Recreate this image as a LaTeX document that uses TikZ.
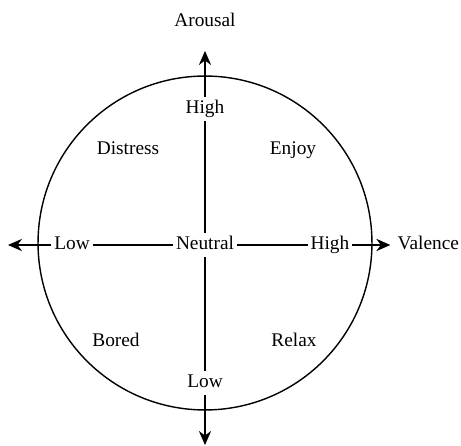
\documentclass[tikz,border=0pt]{standalone}
\usepackage{fontspec}
\setmainfont{Liberation Serif}
\usetikzlibrary{arrows.meta, positioning}

\begin{document}
\begin{tikzpicture}[x=0.02cm, y=-0.02cm,
    every node/.style={font=\fontsize{11}{13}\selectfont, inner sep=1.5pt,
        text height=7.5pt, text depth=2.5pt},
    axis/.style={line width=0.8pt},
    axisarrow/.style={axis, -{Stealth[length=8pt, width=7pt]}}
]
\useasboundingbox (0,0) rectangle (461,446);

% Circle of the affect space
\draw[line width=0.8pt] (205,243) circle (3.34cm);

% Axis labels
\node (neutral) at (205,245) {Neutral};
\node (ahigh) at (205,109) {High};
\node (alow) at (205,383) {Low};
\node (vlow) at (72,245) {Low};
\node (vhigh) at (330,245) {High};
\node[anchor=east, inner sep=1pt] (valence) at (461,245) {Valence};
\node (arousal) at (205,22) {Arousal};
\coordinate (atop) at (205,51);
\coordinate (abot) at (205,445);
\coordinate (vleft) at (8,245);

% Arousal axis
\draw[axis] (neutral) -- (ahigh);
\draw[axisarrow] (ahigh) -- (atop);
\draw[axis] (neutral) -- (alow);
\draw[axisarrow] (alow) -- (abot);

% Valence axis
\draw[axis] (neutral) -- (vlow);
\draw[axisarrow] (vlow) -- (vleft);
\draw[axis] (neutral) -- (vhigh);
\draw[axisarrow] (vhigh) -- ([xshift=-3pt]valence.west);

% Quadrants
\node (distress) at (128,150) {Distress};
\node (enjoy) at (293,150) {Enjoy};
\node (bored) at (116,342) {Bored};
\node (relax) at (294,342) {Relax};

\end{tikzpicture}
\end{document}
